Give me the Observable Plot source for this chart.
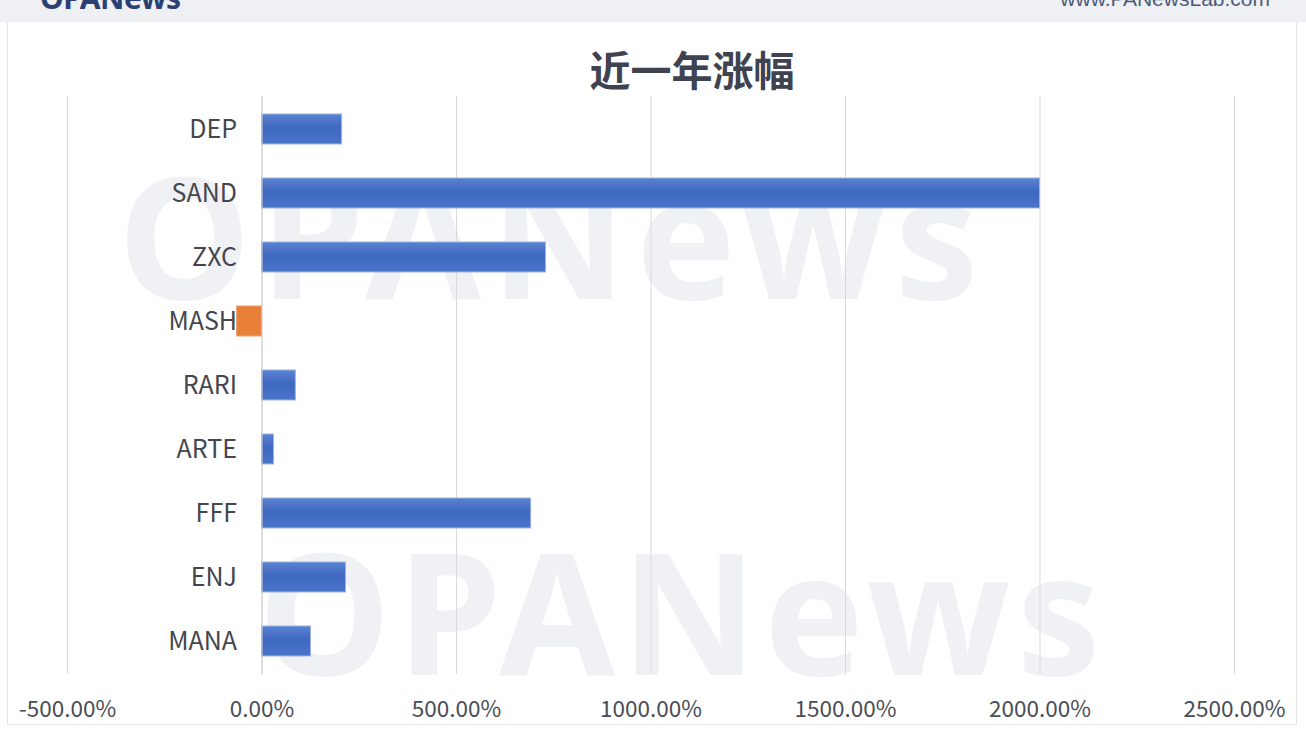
<!DOCTYPE html>
<html>
<head>
<meta charset="utf-8">
<script src="https://cdn.jsdelivr.net/npm/d3@7"></script>
<script src="https://cdn.jsdelivr.net/npm/@observablehq/plot@0.6"></script>
<style>
  html, body { margin: 0; padding: 0; background: #ffffff; }
  #page { position: relative; width: 1306px; height: 746px; overflow: hidden; font-family: "Noto Sans CJK SC", "Noto Sans", sans-serif; }
  #header { position: absolute; left: 0; top: 0; width: 1306px; height: 22px; background: #eef0f4; overflow: hidden; }
  #logo { position: absolute; left: 40px; top: -23px; font: 700 30px "Noto Sans", sans-serif; color: #2c3f72; letter-spacing: -0.5px; }
  #url { position: absolute; right: 36px; top: -13px; font: 400 21px "Liberation Sans", sans-serif; color: #4d5b7c; }
  #panel { position: absolute; left: 7px; top: 22px; width: 1288px; height: 702px; border-left: 1px solid #e4e4e4; border-right: 1px solid #e4e4e4; border-bottom: 1px solid #e4e4e4; background: #fff; }
  #title { position: absolute; left: 0; top: 38px; width: 1384px; text-align: center; font: 700 41px "Noto Sans CJK SC", sans-serif; color: #3f4350; line-height: 60px; height: 52px; }
  .wm { position: absolute; font: 700 168px "Noto Sans", sans-serif; color: #eff1f5; letter-spacing: 9px; white-space: nowrap; line-height: 1; }
  #chart { position: absolute; left: 0; top: 90px; }
</style>
</head>
<body>
<div id="page">
  <div id="header"><div id="logo">OPANews</div><div id="url">www.PANewsLab.com</div></div>
  <div id="panel"></div>
  <div class="wm" style="left:118px; top:150px;">OPANews</div>
  <div class="wm" style="left:258px; top:526px; letter-spacing: 6px;">OPANews</div>
  <div id="title">近一年涨幅</div>
  <div id="chart"></div>
</div>
<script>
const names = ["DEP", "SAND", "ZXC", "MASH", "RARI", "ARTE", "FFF", "ENJ", "MANA"];
const changes = [206, 2000, 730, -64, 87, 31, 692, 216, 126];
const xTicks = [-500, 0, 500, 1000, 1500, 2000, 2500];

const data = names.map((n, i) => ({name: n, value: changes[i]}));

const chart = Plot.plot({
  width: 1306,
  height: 656,
  marginTop: 6,
  marginBottom: 72,
  marginLeft: 67,
  marginRight: 72,
  style: {background: "transparent", fontFamily: "'Noto Sans CJK SC', 'Noto Sans', sans-serif", fontSize: "22px", color: "#4a4a4a"},
  x: {domain: [-500, 2500], ticks: xTicks, tickFormat: d => d.toFixed(2) + "%", label: null},
  y: {domain: names, paddingInner: 0.53, paddingOuter: 0.265, axis: null},
  marks: [
    Plot.gridX(xTicks, {stroke: "#d9d9d9", strokeOpacity: 1, strokeWidth: 1}),
    Plot.axisX({ticks: xTicks, tickSize: 0, tickPadding: 27, tickFormat: d => d.toFixed(2) + "%", fontSize: 22.5, fill: "#4a4d55", label: null}),
    Plot.barX(data, {x: "value", y: "name", fill: d => d.value < 0 ? "#e8803a" : "url(#barGrad)", stroke: d => d.value < 0 ? "#f0a070" : "#9db3e0", strokeWidth: 1}),
    Plot.ruleX([0], {stroke: "#d0d0d0", strokeWidth: 1}),
    Plot.text(data, {x: () => 0, y: "name", text: "name", dx: -25, textAnchor: "end", fontSize: 25, fill: "#44464e"})
  ]
});

// gradient for blue bars
const defs = d3.select(chart).insert("defs", ":first-child");
const g = defs.append("linearGradient").attr("id", "barGrad").attr("x1", 0).attr("x2", 0).attr("y1", 0).attr("y2", 1);
g.append("stop").attr("offset", "0%").attr("stop-color", "#5a82d2");
g.append("stop").attr("offset", "45%").attr("stop-color", "#3f68c0");
g.append("stop").attr("offset", "100%").attr("stop-color", "#4a73c8");

document.getElementById("chart").appendChild(chart);
</script>
</body>
</html>
